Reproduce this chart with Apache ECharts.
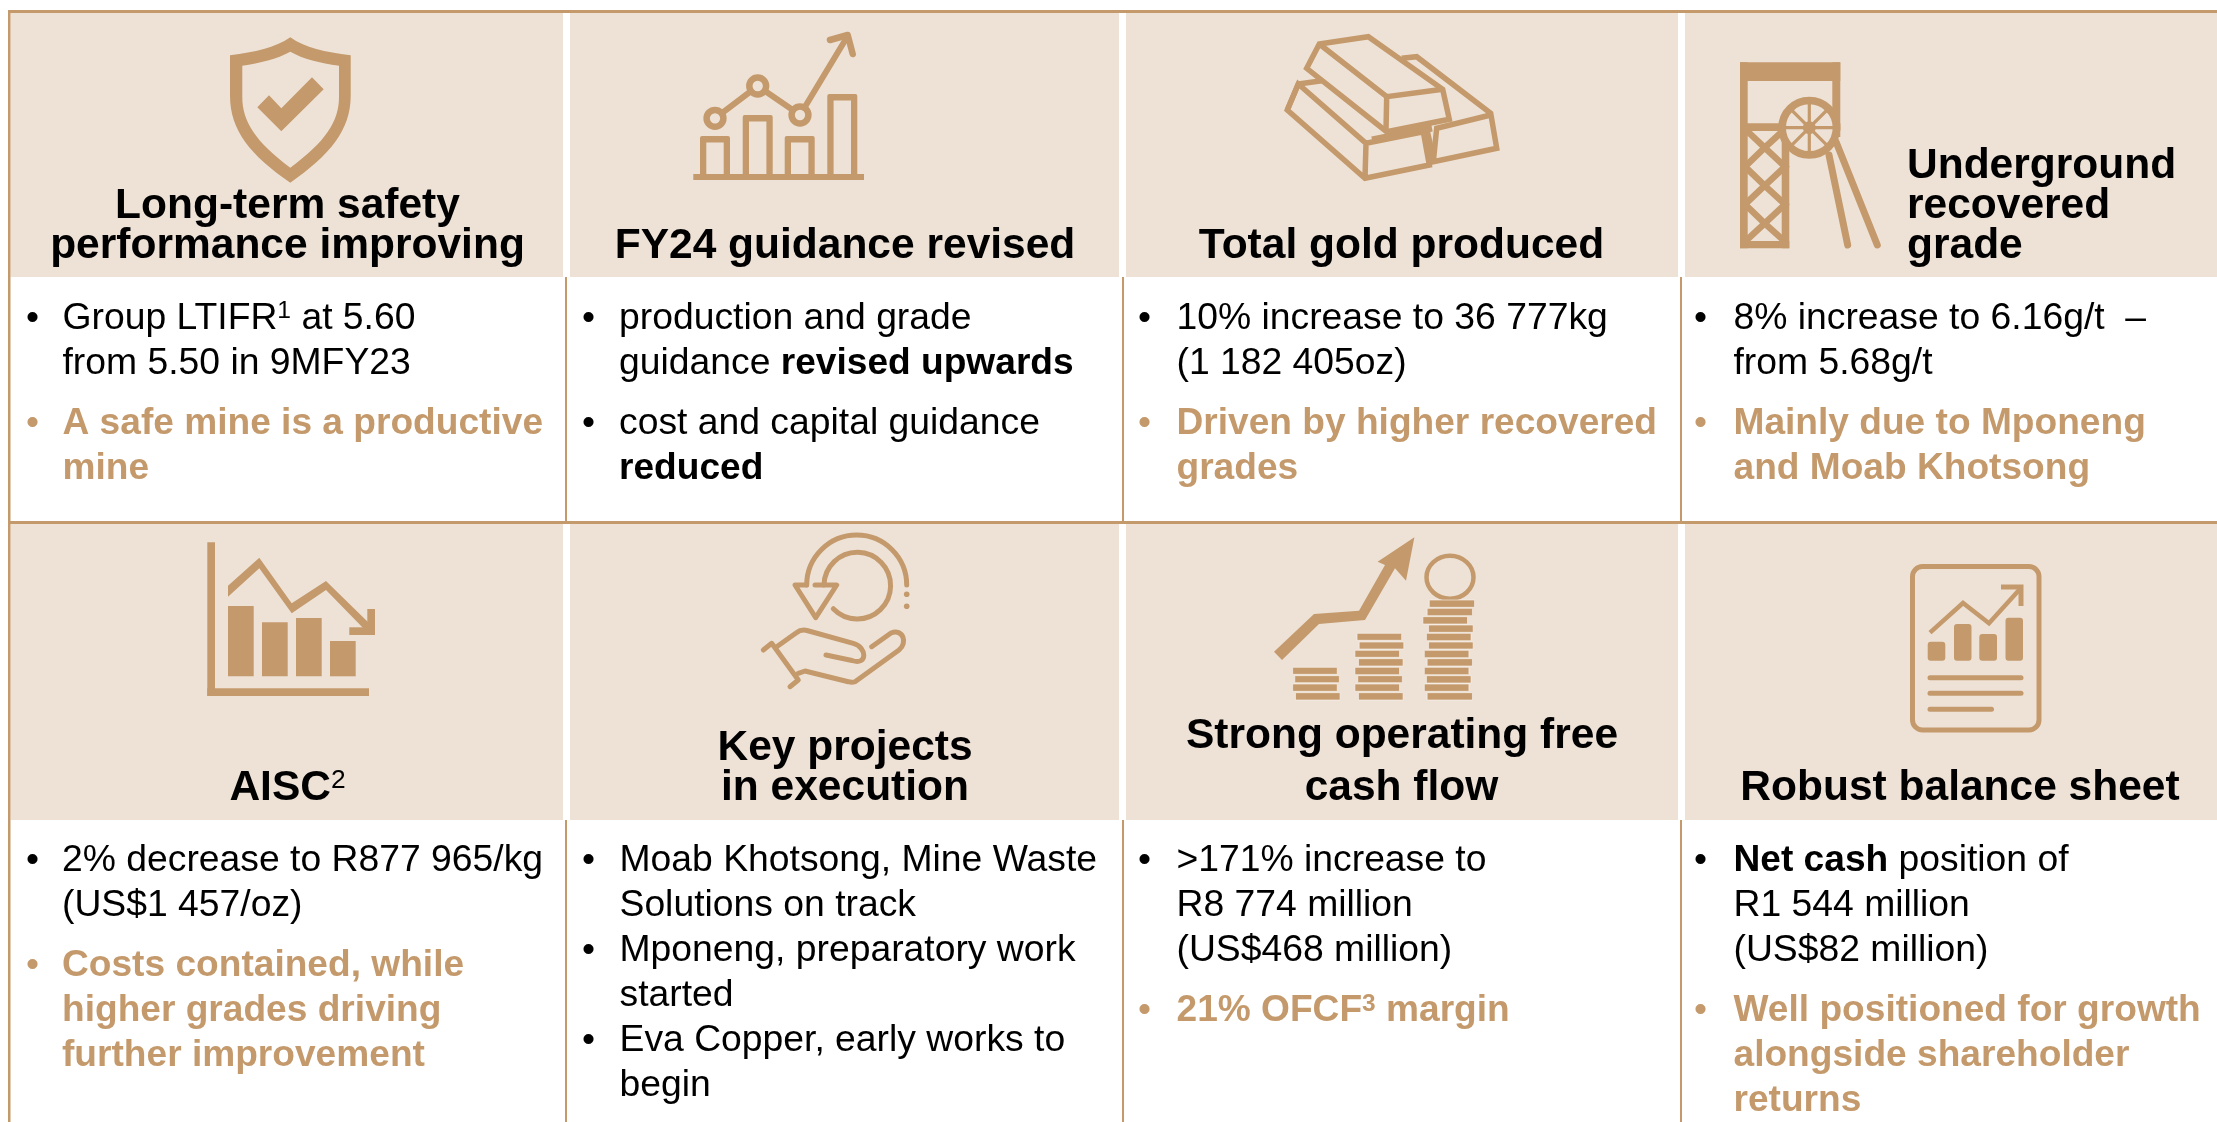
<!DOCTYPE html>
<html><head><meta charset="utf-8">
<style>html,body{margin:0;padding:0;background:#fff}#c{width:2217px;height:1122px}</style>
<script src="https://cdn.jsdelivr.net/npm/echarts@6/dist/echarts.min.js"></script>
</head><body><div id="c"></div>
<script>
// ---- content ----
const row1Titles = [
  ["Long-term safety", "performance improving"],
  ["FY24 guidance revised"],
  ["Total gold produced"],
  ["Underground", "recovered", "grade"]
];
const row2Titles = [
  ["AISC^2^"],
  ["Key projects", "in execution"],
  ["Strong operating free", "cash flow"],
  ["Robust balance sheet"]
];
const safetyBullets = [
  {lines: ["Group LTIFR^1^ at 5.60", "from 5.50 in 9MFY23"]},
  {tan: true, lines: ["A safe mine is a productive", "mine"]}
];
const guidanceBullets = [
  {lines: ["production and grade", "guidance **revised upwards**"]},
  {lines: ["cost and capital guidance", "**reduced**"]}
];
const goldBullets = [
  {lines: ["10% increase to 36 777kg", "(1 182 405oz)"]},
  {tan: true, lines: ["Driven by higher recovered", "grades"]}
];
const gradeBullets = [
  {lines: ["8% increase to 6.16g/t  \u2013", "from 5.68g/t"]},
  {tan: true, lines: ["Mainly due to Mponeng", "and Moab Khotsong"]}
];
const aiscBullets = [
  {lines: ["2% decrease to R877 965/kg", "(US$1 457/oz)"]},
  {tan: true, lines: ["Costs contained, while", "higher grades driving", "further improvement"]}
];
const projectBullets = [
  {lines: ["Moab Khotsong, Mine Waste", "Solutions on track"]},
  {lines: ["Mponeng, preparatory work", "started"]},
  {lines: ["Eva Copper, early works to", "begin"]}
];
const cashBullets = [
  {lines: [">171% increase to", "R8 774 million", "(US$468 million)"]},
  {tan: true, lines: ["21% OFCF^3^ margin"]}
];
const balanceBullets = [
  {lines: ["**Net cash** position of", "R1 544 million", "(US$82 million)"]},
  {tan: true, lines: ["Well positioned for growth", "alongside shareholder", "returns"]}
];

// ---- styles and layout ----
const TAN = "#C49A6C", BEIGE = "#EEE2D7", BLACK = "#000";
const FONT = '"Liberation Sans", Arial, sans-serif';
const els = [];
const mctx = document.createElement("canvas").getContext("2d");
function rect(x0, y0, x1, y1, fill, extra) {
  els.push({type: "rect", shape: Object.assign({x: x0, y: y0, width: x1 - x0, height: y1 - y0}, extra && extra.shape),
    style: Object.assign({fill: fill || TAN}, extra && extra.style)});
}
function fillP(d, fill) { els.push({type: "path", shape: {pathData: d}, style: {fill: fill || TAN, stroke: "none"}}); }
function line(d, w, color, cap, join) {
  els.push({type: "path", shape: {pathData: d}, style: {fill: "none", stroke: color || TAN, lineWidth: w, lineCap: cap || "butt", lineJoin: join || "miter"}});
}
const roundLine = (d, w) => line(d, w, TAN, "round", "round");
function runText(s, x, base, size, weight, color) {
  const sz = weight === "bold" && size < 40 ? size * 0.995 : size;
  mctx.font = `${weight} ${sz}px "Liberation Sans"`;
  els.push({type: "text", x: x, y: base - size * 0.26,
    style: {text: s, x: 0, y: 0, fill: color, font: `${weight} ${sz}px ${FONT}`, align: "left", verticalAlign: "middle"}});
  return mctx.measureText(s).width;
}
function parse(s, baseWeight) {
  const out = [];
  s.split(/(\*\*.*?\*\*|\^.*?\^)/).forEach(p => {
    if (!p) return;
    if (p.startsWith("**")) out.push({t: p.slice(2, -2), w: "bold"});
    else if (p.startsWith("^")) out.push({t: p.slice(1, -1), w: baseWeight, sup: true});
    else out.push({t: p, w: baseWeight});
  });
  return out;
}
const supSize = size => size * (size < 40 ? 0.66 : 0.62);
function measure(runs, size) {
  let w = 0;
  runs.forEach(r => {
    const sz = r.sup ? supSize(size) : size;
    mctx.font = `${r.sup ? "normal" : r.w} ${sz}px "Liberation Sans"`;
    w += mctx.measureText(r.t).width;
  });
  return w;
}
function drawLine(s, x, base, size, weight, color, center) {
  const runs = parse(s, weight);
  let cx = center ? x - measure(runs, size) / 2 : x;
  runs.forEach(r => {
    if (r.sup) cx += runText(r.t, cx, base - size * 0.28, supSize(size), weight === "bold" && size < 40 ? "bold" : "normal", color);
    else cx += runText(r.t, cx, base, size, r.w, color);
  });
}
function bullets(list, bulletX, textX, startY, gap) {
  let y = startY;
  list.forEach(b => {
    const col = b.tan ? TAN : BLACK;
    runText("\u2022", bulletX, y, BODY, "normal", col);
    b.lines.forEach(l => {
      drawLine(l, textX, y, BODY, b.tan ? "bold" : "normal", col);
      y += LINE;
    });
    y += gap - LINE;
  });
}
const BODY = 37.3, HEAD = 42.5, LINE = 45;

// panels
const panelX = [[10.5, 563], [570, 1119], [1126, 1678], [1685, 2217]];
const sepX = [566, 1123, 1681];
panelX.forEach(p => { rect(p[0], 12.5, p[1], 277, BEIGE); rect(p[0], 523.5, p[1], 820, BEIGE); });
sepX.forEach(x => { rect(x - 1, 277, x + 1, 521, TAN); rect(x - 1, 820, x + 1, 1122, TAN); });
rect(8, 10, 10.5, 1122, TAN);
rect(8, 10, 2217, 13, TAN);
rect(8, 521, 2217, 524, TAN);

// titles
row1Titles[0].forEach((t, i) => drawLine(t, 287.5, 217.7 + 40 * i, HEAD, "bold", BLACK, true));
drawLine(row1Titles[1][0], 845, 257.7, HEAD, "bold", BLACK, true);
drawLine(row1Titles[2][0], 1401.5, 257.7, HEAD, "bold", BLACK, true);
row1Titles[3].forEach((t, i) => drawLine(t, 1907, 177.7 + 40 * i, HEAD, "bold", BLACK, false));
drawLine(row2Titles[0][0], 287.5, 799.3, HEAD, "bold", BLACK, true);
row2Titles[1].forEach((t, i) => drawLine(t, 845, 759.3 + 40 * i, HEAD, "bold", BLACK, true));
drawLine(row2Titles[2][0], 1402, 747.8, HEAD, "bold", BLACK, true);
drawLine(row2Titles[2][1], 1401.5, 799.3, HEAD, "bold", BLACK, true);
drawLine(row2Titles[3][0], 1960, 799.3, HEAD, "bold", BLACK, true);

// body text
bullets(safetyBullets, 26, 62.5, 328.3, 60);
bullets(guidanceBullets, 582, 619, 328.3, 60);
bullets(goldBullets, 1138, 1176.5, 328.3, 60);
bullets(gradeBullets, 1694, 1733.5, 328.3, 60);
bullets(aiscBullets, 26, 62, 870, 60.8);
bullets(projectBullets, 582, 619.5, 870, 45);
bullets(cashBullets, 1138, 1176.5, 870, 60.8);
bullets(balanceBullets, 1694, 1733.5, 870, 60.8);

// ---- icons ----
// shield
fillP("M290.3 37.3 C305 48 325 52 350.7 55.3 L350.7 96 C350.7 130 330 155 290.3 182.7 C250 155 230 130 230 96 L230 55.3 C255 52 275 48 290.3 37.3 Z");
fillP("M290.3 51.7 C303 59 320 63 339 65.7 L339 97 C339 122 325 142 290.3 167.7 C256 142 242.3 122 242.3 97 L242.3 65.7 C260 63 277 59 290.3 51.7 Z", BEIGE);
fillP("M257.3 107.3 L269 95.3 L281.3 108.3 L312 77.3 L323.7 89.3 L281.3 131.3 Z");

// chart with rising arrow
rect(693.3, 174, 864, 180);
[[700, 730, 136], [742.7, 772.7, 115], [784.7, 814.7, 136], [827.3, 857.3, 94]].forEach(b => {
  rect(b[0], b[2], b[1], 176, TAN, {shape: {r: [2, 2, 0, 0]}});
  rect(b[0] + 6.3, b[2] + 6.5, b[1] - 6.3, 174, BEIGE);
});
line("M715 118.3 L757.7 86 L800 115 L847.7 36", 6);
[[715, 118.3], [757.7, 86], [800, 115]].forEach(c => {
  els.push({type: "circle", shape: {cx: c[0], cy: c[1], r: 8.4}, style: {fill: BEIGE, stroke: TAN, lineWidth: 6.5}});
});
roundLine("M830 40 L847.7 35 L852.7 54", 6.5);

// gold bars
const G = 5.5;
line("M1401.7 58.3 L1416.7 56.7 L1490.7 113.3 L1496.7 148.3 L1433.3 161.7 L1436.7 128.3 L1490.7 115", G);
line("M1287.3 110 L1298.3 84 L1321.7 80.7", G);
line("M1298.3 84 L1366 143.3 L1423.3 131.7 L1429.3 165 L1365 178.3 L1287.3 110 Z M1366 143.3 L1365 178.3", G);
line("M1425 127 L1433 162", G + 2.5);
line("M1372 140 L1432 128", 7);
line("M1319.3 44 L1368.3 36.7 L1442.7 89.3 L1449.3 119.3 L1386.7 131.7 L1306.7 68.3 Z", G);
line("M1319.3 44 L1386.7 96.7 L1442.7 89.3 M1386.7 96.7 L1386 130", G);

// headframe
rect(1740, 62.3, 1840.3, 81);
rect(1740, 62.3, 1747.7, 248.3);
rect(1832.3, 62.3, 1840.3, 137);
rect(1740, 123.3, 1840.3, 131);
rect(1781.7, 123.3, 1789.3, 248.3);
rect(1740, 241, 1789.3, 248.3);
line("M1745 129 L1764.7 147.7 L1785 166.7 L1764.7 185.7 L1745 204.3 L1764.7 223.3 L1785 241.7", 6.5);
line("M1785 129 L1764.7 147.7 L1745 166.7 L1764.7 185.7 L1785 204.3 L1764.7 223.3 L1745 241.7", 6.5);
els.push({type: "circle", shape: {cx: 1809.3, cy: 127.7, r: 27.2}, style: {fill: BEIGE, stroke: TAN, lineWidth: 7.7}});
line("M1809.3 100.5 L1809.3 154.9 M1782.1 127.7 L1836.5 127.7 M1790 108.5 L1828.6 146.9 M1828.6 108.5 L1790 146.9", 3.2);
els.push({type: "circle", shape: {cx: 1809.3, cy: 127.7, r: 6.5}, style: {fill: TAN}});
roundLine("M1829 155 L1847.7 245 M1836 141.7 L1877.3 245", 7);

// AISC chart
rect(207.3, 542.3, 215, 696);
rect(207.3, 688.3, 369, 696);
[[228, 253.7, 606], [262, 287.7, 622.3], [296, 321.7, 618], [330, 355.7, 641]].forEach(b => rect(b[0], b[2], b[1], 676.3));
fillP("M228 585.7 L259.3 557.7 L291.7 603.3 L326 581 L371 625 L366 631 L326 590 L291.7 613.3 L259.3 568.3 L228 596.7 Z");
rect(367.3, 609, 375, 635);
rect(349.3, 627.3, 375, 635);

// key projects
roundLine("M906.7 585 A50 50 0 0 0 806.7 585", 5);
roundLine("M824 585 A33.3 33.3 0 1 1 833.3 608.7", 5);
roundLine("M806.5 585 L795 585 L815.7 617.7 L836.7 585 L815 585", 5);
[594.3, 606.3].forEach(y => els.push({type: "circle", shape: {cx: 906.7, cy: y, r: 2.8}, style: {fill: TAN}}));
roundLine("M763.3 650 L771.7 643.3 L798.3 680 L790 686.7", 5);
roundLine("M776.7 646.7 L796 633 C800 630 803 629.5 807 630.5 L853.3 643.3 C867 647 868 666 852 660.5 L826 655", 5);
roundLine("M798.3 673.3 L805 671 L848.3 681.7 C851 682.5 853 682.5 855 681.7 L899 650 C908 643 903 628 891 633 L871.7 646.7", 5);

// coin stacks
const OX = 1110, OY = 510, SX = 1.4126;
fillP("M1274 651.7 L1314 614 L1359 610.7 L1385 565 L1377.6 561.7 L1414.4 537.3 L1406 580.7 L1395 568.3 L1365 620 L1319 624 L1282 660 Z");
els.push({type: "ellipse", shape: {cx: 1450, cy: 577.3, rx: 23.5, ry: 21.5}, style: {fill: BEIGE, stroke: TAN, lineWidth: 4.5}});
const coin = (l, r, t, b) => rect(OX + l / SX, OY + t / 3, OX + r / SX, OY + b / 3, TAN, {style: {stroke: "#FBF7F3", lineWidth: 0.6}});
[[451,515,270,292],[448,512,295,317],[442,505,320,342],[450,513,345,367],[447,510,370,392],[450,513,396,417],[444,507,421,443],[448,512,446,468],[444,507,472,494],[447,510,497,519],[444,507,522,544],[448,512,548,570],
 [349,412,370,391],[352,415,396,417],[346,409,421,442],[351,414,446,468],[346,409,472,494],[350,413,497,518],[346,409,522,544],[351,414,548,570],
 [258,321,472,493],[261,324,497,518],[258,321,522,544],[262,325,548,570]].forEach(c => coin(c[0], c[1], c[2], c[3]));

// document
rect(1912.5, 566.5, 2039, 730, BEIGE, {shape: {r: 10}, style: {stroke: TAN, lineWidth: 5}});
[[1927.7, 1945.3, 641.7], [1954, 1971.5, 624], [1979.3, 1997, 634], [2005.5, 2023, 617.7]].forEach(b => rect(b[0], b[2], b[1], 660.7, TAN, {shape: {r: 3}}));
line("M1930 632.7 L1963 603 L1989 623.3 L2020 589", 4.5);
line("M2001 587 L2021 587 L2021 606", 5);
[[2023, 677.7], [2023, 693.3], [1993.5, 709.3]].forEach(l => line(`M1930 ${l[1]} L${l[0] - 2} ${l[1]}`, 5, TAN, "round"));

const chart = echarts.init(document.getElementById("c"), null, {renderer: "canvas"});
chart.setOption({
  animation: false, backgroundColor: "#fff",
  series: [{type: "custom", coordinateSystem: "none", silent: true, data: [[0]],
    renderItem: () => ({type: "group", children: els})}]
});
</script></body></html>
